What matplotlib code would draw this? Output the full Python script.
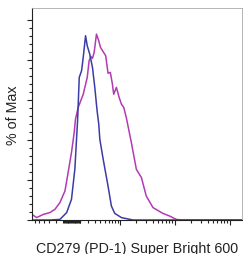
import numpy as np
import matplotlib.pyplot as plt

# histogram traces, x in channel units (0-100 across the axis), y in % of max
iso_x = [0, 8.5, 13.3, 16.5, 18.8, 20.4, 21.2, 21.7, 22.5, 23.6, 24.4, 25.5, 26.3, 27.5,
         28.8, 29.9, 31.0, 31.8, 32.3, 33.9, 36.2, 37.8, 39.4, 42.6, 44.9, 48.1, 100]
iso_y = [0, 0, 0.3, 3.7, 10.3, 25.3, 40.3, 49.5, 71.2, 74.5, 81.2, 92.0, 87.0, 82.8,
         76.2, 66.2, 54.5, 47.8, 40.3, 30.3, 17.0, 7.0, 3.3, 1.2, 0.7, 0, 0]

pd1_x = [0, 2.2, 5.4, 8.5, 10.9, 13.3, 15.7, 17.2, 18.8, 20.1, 20.7, 22.0, 24.4, 26.3,
         27.2, 28.0, 28.8, 29.6, 30.7, 31.8, 32.6, 33.9, 35.1, 36.2, 37.3, 38.3, 38.9,
         40.2, 41.5, 42.6, 43.7, 44.9, 47.3, 49.7, 52.1, 54.4, 57.6, 62.3, 65.5, 68.7,
         71.0, 100]
pd1_y = [2.8, 1.2, 2.8, 3.7, 5.3, 8.7, 14.5, 23.7, 33.7, 43.7, 50.3, 56.2, 62.8, 71.2,
         79.5, 81.7, 80.7, 83.7, 92.8, 89.5, 86.2, 84.0, 82.0, 73.3, 73.7, 67.8, 62.8,
         66.2, 61.2, 57.8, 56.2, 51.2, 38.7, 25.3, 21.2, 12.0, 6.2, 3.3, 2.0, 0.3,
         0, 0]

# biexponential-style axis: channel = a*asinh(v/c) + b
A, C, B = 11.38, 272.0, 19.0
major_vals = [1e3, 1e4, 1e5]
minor_vals = ([-k * 100 for k in range(2, 9)] + list(range(-100, 101, 10))
              + [k * 100 for k in range(2, 10)] + [k * 1000 for k in range(2, 10)]
              + [k * 10000 for k in range(2, 10)] + [2e5])


def to_chan(v):
    return A * np.arcsinh(np.asarray(v, dtype=float) / C) + B


fig = plt.figure(figsize=(2.43, 2.55), dpi=100)
ax = fig.add_axes([32 / 243, 34 / 255, 210 / 243, 211.7 / 255])

ax.plot(pd1_x, pd1_y, color='#b23ab4', lw=1.1)
ax.plot(iso_x, iso_y, color='#3c3ca6', lw=1.1)

ax.set_xlim(0, 100)
ax.set_ylim(0, 105.7)

ax.set_xticks(to_chan(major_vals))
ax.set_xticks([t for t in to_chan(minor_vals) if 0 <= t <= 100], minor=True)
ax.set_yticks(np.arange(0, 101, 20))
ax.set_yticks(np.arange(0, 101, 4), minor=True)
ax.tick_params(which='both', labelbottom=False, labelleft=False, direction='out',
               color='#222222', width=0.8)
ax.tick_params(which='major', length=3.5)
ax.tick_params(which='minor', length=2)

for s in ['left', 'bottom']:
    ax.spines[s].set_color('#222222')
    ax.spines[s].set_linewidth(0.8)
for s in ['top', 'right']:
    ax.spines[s].set_color('#aaaaaa')
    ax.spines[s].set_linewidth(0.6)

font = ['Liberation Sans', 'DejaVu Sans']
ax.set_xlabel('CD279 (PD-1) Super Bright 600', family=font, fontsize=10.3,
              color='#222222', labelpad=11.5)
ax.set_ylabel('% of Max', family=font, fontsize=10.3, color='#222222', labelpad=5)

fig.savefig('out.png', dpi=100)
